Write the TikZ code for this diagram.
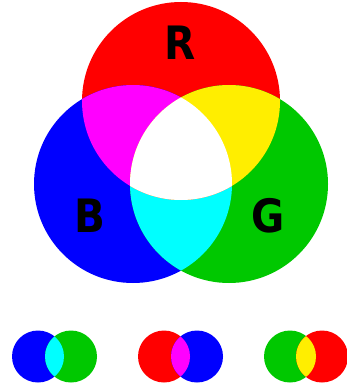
\documentclass[tikz,border=0pt]{standalone}
\usepackage{fontspec}
\setsansfont{DejaVu Sans}
\definecolor{cR}{RGB}{255,0,0}
\definecolor{cG}{RGB}{0,200,0}
\definecolor{cB}{RGB}{0,0,255}
\definecolor{cC}{RGB}{0,255,255}
\definecolor{cM}{RGB}{255,0,255}
\definecolor{cY}{RGB}{255,238,0}
\tikzset{
  lbl/.style={font=\sffamily\bfseries\fontsize{46}{46}\selectfont, text=black, anchor=base, inner sep=0pt, xscale=0.88}
}
\begin{document}
\begin{tikzpicture}[x=1pt,y=-1pt]
\useasboundingbox (0,0) rectangle (346,387);
\def\rb{99}
\def\rs{26}
\coordinate (R) at (181,101);
\coordinate (B) at (133,184);
\coordinate (G) at (229,184);
% big circles
\fill[cR] (R) circle[radius=\rb];
\fill[cB] (B) circle[radius=\rb];
\fill[cG] (G) circle[radius=\rb];
\begin{scope}
  \clip (B) circle[radius=\rb];
  \fill[cC] (G) circle[radius=\rb];
\end{scope}
\begin{scope}
  \clip (R) circle[radius=\rb];
  \fill[cM] (B) circle[radius=\rb];
  \fill[cY] (G) circle[radius=\rb];
  \begin{scope}
    \clip (B) circle[radius=\rb];
    \fill[white] (G) circle[radius=\rb];
  \end{scope}
\end{scope}
\node[lbl] (lr) at (180.5,60) {R};
\node[lbl] (lb) at (90,232) {B};
\node[lbl] (lg) at (268,232) {G};
% small pairs
\coordinate (b1) at (38,356.5);
\coordinate (g1) at (71,356.5);
\coordinate (r2) at (164,356.5);
\coordinate (b2) at (197,356.5);
\coordinate (g3) at (290,356.5);
\coordinate (r3) at (322,356.5);
\fill[cB] (b1) circle[radius=\rs];
\fill[cG] (g1) circle[radius=\rs];
\begin{scope}\clip (b1) circle[radius=\rs]; \fill[cC] (g1) circle[radius=\rs];\end{scope}
\fill[cR] (r2) circle[radius=\rs];
\fill[cB] (b2) circle[radius=\rs];
\begin{scope}\clip (r2) circle[radius=\rs]; \fill[cM] (b2) circle[radius=\rs];\end{scope}
\fill[cG] (g3) circle[radius=\rs];
\fill[cR] (r3) circle[radius=\rs];
\begin{scope}\clip (g3) circle[radius=\rs]; \fill[cY] (r3) circle[radius=\rs];\end{scope}
\end{tikzpicture}
\end{document}
